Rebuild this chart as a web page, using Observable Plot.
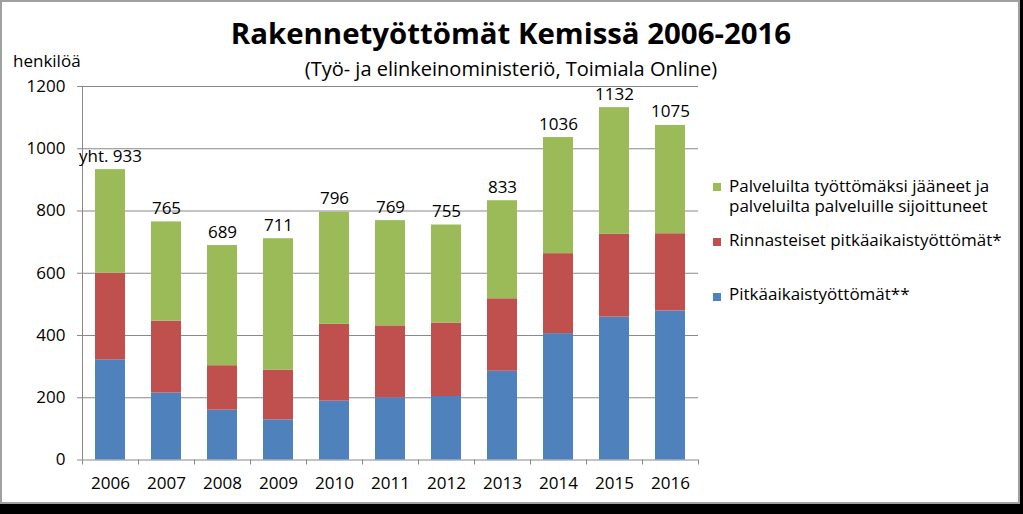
<!DOCTYPE html>
<html>
<head>
<meta charset="utf-8">
<script src="https://cdn.jsdelivr.net/npm/d3@7"></script>
<script src="https://cdn.jsdelivr.net/npm/@observablehq/plot@0.6"></script>
<style>
html, body { margin: 0; padding: 0; }
body { width: 1023px; height: 514px; background: #000; position: relative; overflow: hidden; font-family: "Open Sans", sans-serif; }
#card { position: absolute; left: 0; top: 0; width: 1020px; height: 504px; box-sizing: border-box; border: 2px solid #a0a0a0; background: #fff; }
#chart { position: absolute; left: 0; top: 0; }
.t { position: absolute; white-space: pre; color: #000; }
.sw { position: absolute; width: 8px; height: 8px; }
</style>
</head>
<body>
<div id="card"></div>
<div id="chart"></div>
<script>
// ---- data ----
const years = [2006, 2007, 2008, 2009, 2010, 2011, 2012, 2013, 2014, 2015, 2016];
const pitkaaikais = [322, 215, 160, 129, 189, 200, 204, 285, 406, 459, 479];
const rinnasteiset = [278, 231, 143, 160, 247, 231, 236, 233, 257, 266, 248];
const palveluilta = [333, 319, 386, 422, 360, 338, 315, 315, 373, 407, 348];
const totals = [933, 765, 689, 711, 796, 769, 755, 833, 1036, 1132, 1075];
const totalLabels = ["yht. 933", "765", "689", "711", "796", "769", "755", "833", "1036", "1132", "1075"];
const yTicks = [0, 200, 400, 600, 800, 1000, 1200];
const seriesNames = ["Pitkäaikaistyöttömät**", "Rinnasteiset pitkäaikaistyöttömät*", "Palveluilta työttömäksi jääneet ja palveluilta palveluille sijoittuneet"];
const seriesColors = ["#4F81BD", "#C0504D", "#9BBB59"];
const titleText = "Rakennetyöttömät Kemissä 2006-2016";
const subtitleText = "(Työ- ja elinkeinoministeriö, Toimiala Online)";
const yLabelText = "henkilöä";

// ---- table ----
const seriesValues = [pitkaaikais, rinnasteiset, palveluilta];
const table = [];
years.forEach((yr, i) => {
  seriesValues.forEach((vals, s) => table.push({year: yr, series: seriesNames[s], value: vals[i]}));
});
const totalTable = years.map((yr, i) => ({year: yr, total: totals[i], label: totalLabels[i]}));

const W = 1023, H = 514;
const mL = 82, mR = 325, mT = 86, mB = 54.5;
const step = (W - mL - mR) / years.length;
const gray = "#888888";
const fs = 17;

const chart = Plot.plot({
  width: W, height: H,
  marginLeft: mL, marginRight: mR, marginTop: mT, marginBottom: mB,
  style: {background: "transparent", fontFamily: "'Open Sans', sans-serif", fontSize: fs + "px", color: "#000"},
  x: {type: "band", domain: years, paddingInner: 0.47, paddingOuter: 0.235, label: null},
  y: {domain: [0, 1200], label: null},
  color: {domain: seriesNames, range: seriesColors},
  marks: [
    Plot.ruleY(yTicks, {y: d => d, stroke: gray, strokeWidth: 1}),
    Plot.barY(table, {x: "year", y: "value", fill: "series"}),
    Plot.ruleX([years[0]], {x: d => d, dx: -step / 2, stroke: gray}),
    Plot.ruleX(years, {x: d => d, y1: () => 0, y2: () => 0, dx: -step / 2, insetBottom: -5, stroke: gray}),
    Plot.ruleX([years[years.length - 1]], {x: d => d, y1: () => 0, y2: () => 0, dx: step / 2, insetBottom: -5, stroke: gray}),
    Plot.axisY({ticks: yTicks, tickFormat: d => String(d), tickSize: 5, tickPadding: 12, stroke: gray, fill: "#000", fontSize: fs, label: null}),
    Plot.axisX({tickSize: 0, tickPadding: 17, tickFormat: d => String(d), fill: "#000", fontSize: fs, label: null}),
    Plot.text(totalTable, {x: "year", y: "total", text: "label", dy: -8, lineAnchor: "bottom", fill: "#000", fontSize: fs})
  ]
});
document.getElementById("chart").appendChild(chart);

// ---- HTML text (title, subtitle, axis label, legend) ----
// Open Sans metrics: ascent 1.069em, descent 0.293em
function place(text, x, baseline, size, opts = {}) {
  const lh = opts.lh || size;
  const d = document.createElement("div");
  d.className = "t";
  d.textContent = text;
  d.style.fontSize = size + "px";
  d.style.lineHeight = lh + "px";
  d.style.top = (baseline - ((lh - 1.362 * size) / 2 + 1.069 * size)) + "px";
  if (opts.bold) d.style.fontWeight = "700";
  if (opts.center) { d.style.left = (x - 500) + "px"; d.style.width = "1000px"; d.style.textAlign = "center"; }
  else d.style.left = x + "px";
  document.body.appendChild(d);
  return d;
}
place(titleText, 511, 45, 29.4, {bold: true, center: true});
place(subtitleText, 511, 77, 20, {center: true});
place(yLabelText, 13, 67, 17);

// legend (top item first: green, red, blue)
const legendItems = [
  {text: "Palveluilta työttömäksi jääneet ja\npalveluilta palveluille sijoittuneet", color: seriesColors[2], base: 193, sq: 183},
  {text: "Rinnasteiset pitkäaikaistyöttömät*", color: seriesColors[1], base: 247, sq: 238},
  {text: "Pitkäaikaistyöttömät**", color: seriesColors[0], base: 301, sq: 293}
];
legendItems.forEach(it => {
  const s = document.createElement("div");
  s.className = "sw";
  s.style.left = "713px";
  s.style.top = it.sq + "px";
  s.style.background = it.color;
  document.body.appendChild(s);
  place(it.text, 729, it.base, 17, {lh: 20});
});
</script>
</body>
</html>
